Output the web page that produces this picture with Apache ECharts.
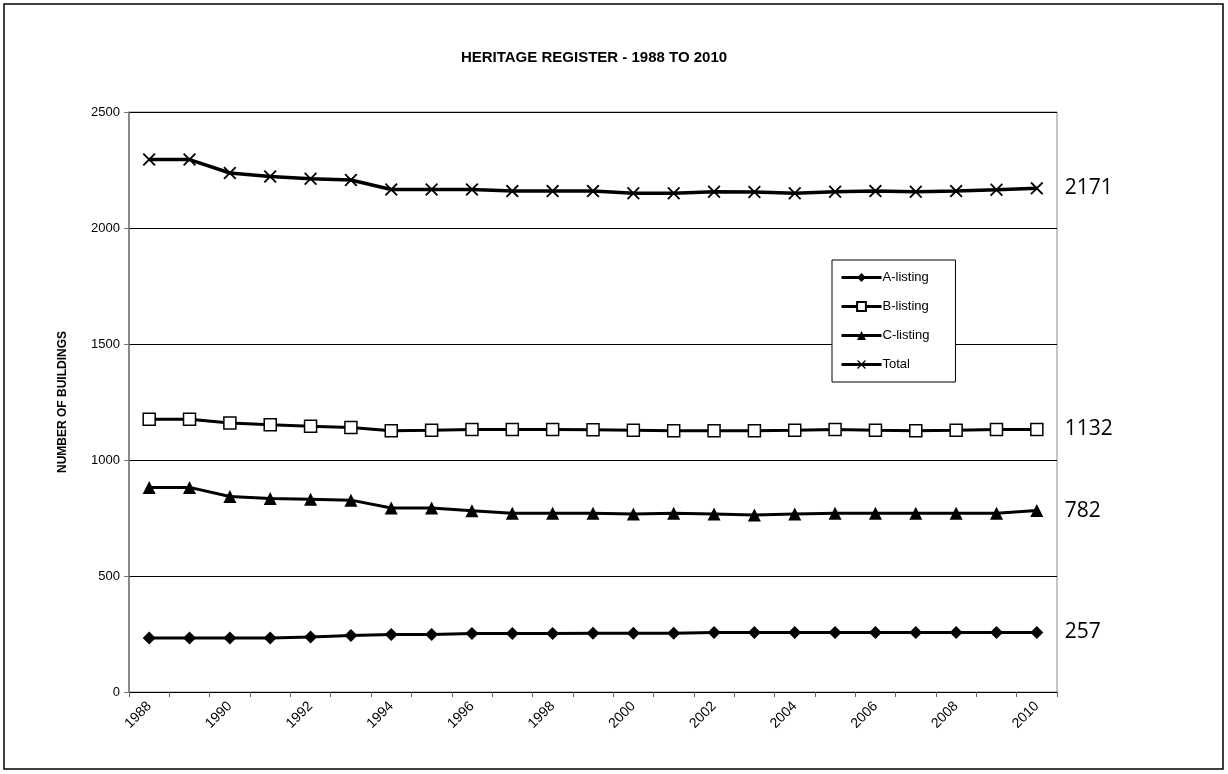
<!DOCTYPE html>
<html>
<head>
<meta charset="utf-8">
<script src="https://cdn.jsdelivr.net/npm/echarts@6/dist/echarts.min.js"></script>
<style>html,body{margin:0;padding:0;background:#fff;}#c{width:1228px;height:774px;}</style>
</head>
<body>
<div id="c"></div>
<script>
var years = ['1988','1989','1990','1991','1992','1993','1994','1995','1996','1997','1998','1999','2000','2001','2002','2003','2004','2005','2006','2007','2008','2009','2010'];
var aListing = [233,233,233,233,237,244,248,248,252,252,252,253,253,253,257,257,257,257,257,257,257,257,257];
var bListing = [1176,1176,1159,1152,1145,1140,1126,1128,1131,1131,1131,1130,1128,1126,1126,1126,1128,1132,1128,1126,1128,1132,1132];
var cListing = [882,882,843,834,831,827,793,793,781,770,770,770,767,770,767,763,767,770,770,770,770,770,782];
var total = [2295,2295,2237,2222,2212,2207,2166,2166,2166,2159,2159,2159,2150,2150,2156,2155,2150,2156,2159,2156,2159,2165,2171];
var yTicks = [0, 500, 1000, 1500, 2000, 2500];

var chart = echarts.init(document.getElementById('c'), null, {renderer: 'canvas'});
var crossPath = 'path://M0,1 L1,0 L5,4 L9,0 L10,1 L6,5 L10,9 L9,10 L5,6 L1,10 L0,9 L4,5 Z';
function endLbl() {
  return {show: true, distance: 28, formatter: function (p) { return p.value; },
    fontFamily: 'Open Sans', fontSize: 21, color: '#000'};
}
var option = {
  animation: false,
  backgroundColor: '#fff',
  title: {
    text: 'HERITAGE REGISTER - 1988 TO 2010',
    left: 589, top: 45, textAlign: 'center',
    textStyle: {fontFamily: 'Liberation Sans', fontWeight: 'bold', fontSize: 15, color: '#000'}
  },
  graphic: [{
    type: 'rect', shape: {x: 4, y: 4, width: 1219, height: 765},
    style: {fill: 'none', stroke: '#000', lineWidth: 1.5}, z: 100
  }],
  grid: {left: 129, right: 171, top: 112, bottom: 82, show: true, borderColor: '#888', borderWidth: 1, backgroundColor: 'transparent'},
  legend: {
    orient: 'vertical', left: 832, top: 260,
    padding: [11, 26, 11, 8],
    backgroundColor: '#fff', borderColor: '#000', borderWidth: 1,
    itemWidth: 40, itemHeight: 11, itemGap: 16,
    lineStyle: {width: 3},
    textStyle: {fontFamily: 'Liberation Sans', fontSize: 13, color: '#000', padding: [0, 0, 0, -4]},
    data: ['A-listing', 'B-listing', 'C-listing', 'Total']
  },
  xAxis: {
    type: 'category', data: years, boundaryGap: true,
    axisLine: {lineStyle: {color: '#000', width: 1}},
    axisTick: {show: true, interval: 0, length: 5, lineStyle: {color: '#666'}},
    axisLabel: {interval: 1, rotate: 45, fontFamily: 'Liberation Sans', fontSize: 14, color: '#000', margin: 12},
    splitLine: {show: false}
  },
  yAxis: {
    type: 'value', min: yTicks[0], max: yTicks[yTicks.length - 1], interval: 500,
    name: 'NUMBER OF BUILDINGS', nameLocation: 'middle', nameGap: 60, nameRotate: 90,
    nameTextStyle: {fontFamily: 'Liberation Sans', fontWeight: 'bold', fontSize: 12, color: '#000'},
    axisLine: {show: true, lineStyle: {color: '#777', width: 1.5}},
    axisTick: {show: true, length: 5, lineStyle: {color: '#777'}},
    axisLabel: {fontFamily: 'Liberation Sans', fontSize: 13, color: '#000', margin: 9,
      formatter: function (v) { return String(v); }},
    splitLine: {show: true, lineStyle: {color: '#000', width: 1}}
  },
  series: [
    {name: 'A-listing', type: 'line', data: aListing, symbol: 'diamond', symbolSize: 13,
     lineStyle: {color: '#000', width: 3}, itemStyle: {color: '#000'}, endLabel: endLbl()},
    {name: 'B-listing', type: 'line', data: bListing, symbol: 'rect', symbolSize: 12,
     lineStyle: {color: '#000', width: 3}, itemStyle: {color: '#fff', borderColor: '#000', borderWidth: 1.5}, endLabel: endLbl()},
    {name: 'C-listing', type: 'line', data: cListing, symbol: 'triangle', symbolSize: 13,
     lineStyle: {color: '#000', width: 3}, itemStyle: {color: '#000'}, endLabel: endLbl()},
    {name: 'Total', type: 'line', data: total, symbol: crossPath, symbolSize: 13,
     lineStyle: {color: '#000', width: 3.5}, itemStyle: {color: '#000'}, endLabel: endLbl()}
  ]
};
chart.setOption(option);
</script>
</body>
</html>
